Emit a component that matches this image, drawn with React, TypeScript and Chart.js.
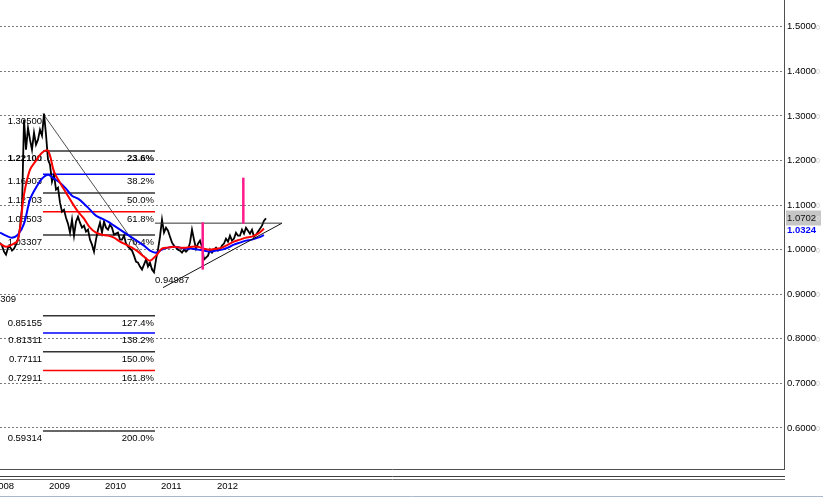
import React, { useEffect, useRef } from 'react';
import { Chart, registerables } from 'chart.js';

Chart.register(...registerables);

// ---------- data ----------
const X_MIN = 2008.125;
const X_MAX = 2022.125;
const SERIES_START = 2008.125;
const PRICE_STEP = 1 / 28;
const MA_STEP = 3 / 28;

const Y_MIN = 0.508;
const Y_MAX = 1.5599;

const yearTicks = [2008, 2009, 2010, 2011, 2012];
const priceTicks = [0.6, 0.7, 0.8, 0.9, 1.0, 1.1, 1.2, 1.3, 1.4, 1.5];

const closePrices = [
  1.0157, 1.009, 0.9955, 0.9888, 1.0045, 1.0067, 0.9978, 1.0022, 1.0112, 1.0224,
  1.0493, 1.0942, 1.2915, 1.2242, 1.2735, 1.2466, 1.2242, 1.2623, 1.2354, 1.2466,
  1.2691, 1.2556, 1.305, 1.2578, 1.2018, 1.1906, 1.1525, 1.1682, 1.1345, 1.139,
  1.1054, 1.0852, 1.0897, 1.0717, 1.0583, 1.0381, 1.0673, 1.0314, 1.0628, 1.074,
  1.0605, 1.0493, 1.0538, 1.0404, 1.0448, 1.0224, 1.0112, 0.9955, 1.0224, 1.0448,
  1.0605, 1.0381, 1.0628, 1.0493, 1.0448, 1.0561, 1.0493, 1.0336, 1.0359, 1.0381,
  1.0224, 1.0224, 1.0314, 1.0135, 1.0067, 1.0022, 0.9978, 0.9865, 0.9731, 0.9709,
  0.9619, 0.9552, 0.9664, 0.9776, 0.9619, 0.9709, 0.9552, 0.9491, 0.9776, 1.0,
  1.0291, 1.0673, 1.0381, 1.0493, 1.0426, 1.0291, 1.0157, 1.009, 1.0045, 1.0,
  0.9978, 0.9933, 1.0, 0.9955, 1.0, 1.0157, 1.0448, 1.0224, 1.0022, 1.0135,
  1.0202, 1.0067, 0.9776, 0.9821, 0.9865, 1.0, 0.9933, 1.0, 1.0045, 0.9978,
  1.0, 1.009, 1.0135, 1.0247, 1.0179, 1.0314, 1.0202, 1.0247, 1.0381, 1.0314,
  1.0314, 1.0448, 1.0359, 1.0493, 1.0426, 1.0359, 1.0448, 1.0291, 1.0336, 1.0404,
  1.0471, 1.0538, 1.065, 1.0702,
];

const fastMA = [
  1.0135, 1.0067, 1.0112, 1.0224, 1.1233, 1.1794, 1.1996, 1.2175, 1.222, 1.1749,
  1.1502, 1.1278, 1.1054, 1.0852, 1.0695, 1.0493, 1.0381, 1.0336, 1.0314, 1.0269,
  1.0179, 1.0112, 1.0045, 0.9955, 0.9843, 0.9753, 0.9865, 1.0022, 1.0045, 1.0067,
  1.0045, 1.0045, 1.0067, 1.0067, 1.0022, 1.0, 1.0022, 1.0045, 1.0112, 1.0179,
  1.0224, 1.0269, 1.0291, 1.0359, 1.0471,
];

const slowMA = [
  1.0381, 1.0314, 1.0269, 1.0336, 1.0583, 1.1121, 1.139, 1.1592, 1.1682, 1.1592,
  1.1502, 1.1368, 1.1211, 1.1143, 1.1031, 1.0897, 1.0762, 1.0695, 1.0628, 1.0538,
  1.0448, 1.0359, 1.0269, 1.0179, 1.009, 0.9978, 0.9933, 1.0, 1.0045, 1.0067,
  1.0045, 1.0022, 1.0022, 1.0, 0.9978, 0.9955, 0.9978, 1.0, 1.0045, 1.0112,
  1.0157, 1.0202, 1.0224, 1.0269, 1.0324,
];

const fibPercents = ['23.6%', '38.2%', '50.0%', '61.8%', '76.4%', '127.4%', '138.2%', '150.0%', '161.8%', '200.0%'];
const fibPrices = ['1.22100', '1.16903', '1.12703', '1.08503', '1.03307', '0.85155', '0.81311', '0.77111', '0.72911', '0.59314'];
const FIB_HIGH = 1.305;
const FIB_LOW = 0.94907;
const FIB_FROM = 2008.893;
const FIB_TO = 2010.893;
const fibHighLabel = '1.30500';
const fibLowLabel = '0.94987';
const strayLabel = '0.90309';

const RESISTANCE = 1.0594;
const RESISTANCE_FROM = 2010.893;
const LINES_TO = 2013.161;
const SUPPORT_START_X = 2011.036;
const SUPPORT_START_Y = 0.9148;

const spikeDates = [2011.745, 2012.47];
const spikeLows = [0.9552, 1.0583];
const spikeHighs = [1.0612, 1.1614];

const LAST_PRICE = 1.0702;
const SLOW_MA_LAST = 1.0324;

// ---------- styles ----------
const FONT = '"Liberation Sans", Arial, sans-serif';
const TEXT = '#000000';
const fibColors = ['#333333', '#0000ff', '#333333', '#ff0000', '#333333', '#333333', '#0000ff', '#333333', '#ff0000', '#333333'];
const fibBold = [true, false, false, false, false, false, false, false, false, false];

const seriesPoints = (vals: number[], step: number) =>
  vals.map((v, i) => ({ x: SERIES_START + i * step, y: v }));

const seg = (x1: number, y1: number, x2: number, y2: number) => [
  { x: x1, y: y1 },
  { x: x2, y: y2 },
];

const annotationsPlugin = {
  id: 'mtAnnotations',
  beforeDatasetsDraw(chart: any) {
    const { ctx } = chart;
    const xs = chart.scales.x;
    const ys = chart.scales.y;
    const x0 = xs.getPixelForValue(FIB_FROM);
    const x1 = xs.getPixelForValue(FIB_TO);
    ctx.save();
    ctx.fillStyle = TEXT;
    ctx.textBaseline = 'middle';
    fibPrices.forEach((p, i) => {
      const y = ys.getPixelForValue(parseFloat(p)) + 7.5;
      ctx.font = (fibBold[i] ? 'bold ' : '') + '9.5px ' + FONT;
      ctx.textAlign = 'right';
      ctx.fillText(p, x0 - 1, y);
      ctx.fillText(fibPercents[i], x1 - 1, y);
    });
    ctx.font = '9.5px ' + FONT;
    ctx.textAlign = 'right';
    ctx.fillText(fibHighLabel, x0 - 1, ys.getPixelForValue(FIB_HIGH) + 8);
    ctx.textAlign = 'left';
    ctx.fillText(fibLowLabel, x1, ys.getPixelForValue(FIB_LOW) + 8);
    ctx.textAlign = 'right';
    ctx.fillText(strayLabel, 16, ys.getPixelForValue(parseFloat(strayLabel)) + 7);
    ctx.restore();
  },
  afterDraw(chart: any) {
    const { ctx } = chart;
    const ys = chart.scales.y;
    const left = ys.left + 3;
    ctx.save();
    ctx.textBaseline = 'middle';
    ctx.textAlign = 'left';
    // faint trailing digit on axis labels
    ys.ticks.forEach((t: any) => {
      const label = t.value.toFixed(4);
      const y = ys.getPixelForValue(t.value);
      ctx.font = '9.5px ' + FONT;
      const w = ctx.measureText(label).width;
      ctx.font = '7px ' + FONT;
      ctx.fillStyle = '#c4c4c4';
      ctx.fillText('0', left + w, y + 1);
    });
    // blue MA value label
    const yb = ys.getPixelForValue(SLOW_MA_LAST) - 5;
    ctx.font = 'bold 9.5px ' + FONT;
    ctx.fillStyle = '#0000ff';
    ctx.fillText(SLOW_MA_LAST.toFixed(4), left, yb);
    // current price box
    const yp = ys.getPixelForValue(LAST_PRICE);
    ctx.fillStyle = '#c6c6c6';
    ctx.fillRect(ys.left + 2, Math.round(yp) - 7.5, 35, 15);
    ctx.font = '9.5px ' + FONT;
    ctx.fillStyle = '#111';
    const lbl = LAST_PRICE.toFixed(4);
    ctx.fillText(lbl, left, yp);
    const w = ctx.measureText(lbl).width;
    ctx.font = '7px ' + FONT;
    ctx.fillStyle = '#e6e6e6';
    ctx.fillText('0', left + w, yp + 1);
    // separator lines under plot
    const right = chart.chartArea.right + 1;
    ctx.lineWidth = 1;
    ctx.strokeStyle = '#404040';
    ctx.beginPath();
    ctx.moveTo(0, 476.5);
    ctx.lineTo(right, 476.5);
    ctx.stroke();
    ctx.strokeStyle = '#6a6a6a';
    ctx.beginPath();
    ctx.moveTo(0, 479.5);
    ctx.lineTo(right, 479.5);
    ctx.stroke();
    ctx.strokeStyle = '#aab6cc';
    ctx.beginPath();
    ctx.moveTo(0, 496.5);
    ctx.lineTo(chart.width, 496.5);
    ctx.stroke();
    ctx.restore();
  },
};

export default function App() {
  const ref = useRef<HTMLCanvasElement | null>(null);

  useEffect(() => {
    if (!ref.current) return;
    const lineBase = { pointRadius: 0, fill: false, tension: 0 };
    const datasets: any[] = [];

    // pink spikes and triangle (top)
    spikeDates.forEach((d, i) => {
      datasets.push({
        ...lineBase,
        data: seg(d, spikeLows[i], d, spikeHighs[i]),
        borderColor: '#ff1a8c',
        borderWidth: 2.5,
        order: 0,
      });
    });
    datasets.push({
      ...lineBase,
      data: seg(RESISTANCE_FROM, RESISTANCE, LINES_TO, RESISTANCE),
      borderColor: '#333333',
      borderWidth: 1,
      order: 0,
    });
    datasets.push({
      ...lineBase,
      data: seg(SUPPORT_START_X, SUPPORT_START_Y, LINES_TO, RESISTANCE),
      borderColor: '#111111',
      borderWidth: 1,
      order: 0,
    });
    // moving averages
    datasets.push({
      ...lineBase,
      data: seriesPoints(fastMA, MA_STEP),
      borderColor: '#ff0000',
      borderWidth: 2,
      tension: 0.35,
      order: 1,
    });
    datasets.push({
      ...lineBase,
      data: seriesPoints(slowMA, MA_STEP),
      borderColor: '#0000ff',
      borderWidth: 2,
      tension: 0.35,
      order: 2,
    });
    // price
    datasets.push({
      ...lineBase,
      data: seriesPoints(closePrices, PRICE_STEP),
      borderColor: '#000000',
      borderWidth: 1.8,
      order: 3,
    });
    // fib levels
    fibPrices.forEach((p, i) => {
      const v = parseFloat(p);
      datasets.push({
        ...lineBase,
        data: seg(FIB_FROM, v, FIB_TO, v),
        borderColor: fibColors[i],
        borderWidth: 1.5,
        order: 4,
      });
    });
    datasets.push({
      ...lineBase,
      data: seg(FIB_FROM, FIB_HIGH, FIB_TO, FIB_LOW),
      borderColor: '#222222',
      borderWidth: 0.8,
      order: 4,
    });

    const chart = new Chart(ref.current, {
      type: 'line',
      data: { datasets },
      options: {
        animation: false,
        responsive: false,
        devicePixelRatio: 1,
        layout: { padding: 0 },
        plugins: { legend: { display: false }, tooltip: { enabled: false } },
        scales: {
          x: {
            type: 'linear',
            min: X_MIN,
            max: X_MAX,
            afterBuildTicks: (s: any) => {
              s.ticks = yearTicks.map((v) => ({ value: v }));
            },
            afterFit: (s: any) => {
              s.height = 28;
              s.paddingLeft = 0;
              s.paddingRight = 0;
              s.paddingTop = 0;
              s.paddingBottom = 0;
            },
            grid: { display: false, drawTicks: false },
            border: { display: true, color: '#505050', width: 1 },
            ticks: {
              autoSkip: false,
              maxRotation: 0,
              minRotation: 0,
              align: 'start',
              padding: 12,
              color: TEXT,
              font: { family: FONT, size: 9.5 },
              callback: (v: any) => String(v),
            },
          },
          y: {
            type: 'linear',
            position: 'right',
            min: Y_MIN,
            max: Y_MAX,
            afterBuildTicks: (s: any) => {
              s.ticks = priceTicks.map((v) => ({ value: v }));
            },
            afterFit: (s: any) => {
              s.width = 39;
              s.paddingLeft = 0;
              s.paddingRight = 0;
              s.paddingTop = 0;
              s.paddingBottom = 0;
            },
            grid: { color: '#7a7a7a', lineWidth: 1, drawTicks: false },
            border: { display: true, color: '#505050', width: 1, dash: [2, 2] },
            ticks: {
              padding: 3,
              color: TEXT,
              font: { family: FONT, size: 9.5 },
              callback: (v: any) => Number(v).toFixed(4),
            },
          },
        },
      } as any,
      plugins: [annotationsPlugin],
    });
    return () => chart.destroy();
  }, []);

  return (
    <div style={{ position: 'fixed', left: 0, top: 0, width: 823, height: 497, background: '#fff' }}>
      <canvas ref={ref} width={823} height={497} style={{ display: 'block' }} />
    </div>
  );
}
